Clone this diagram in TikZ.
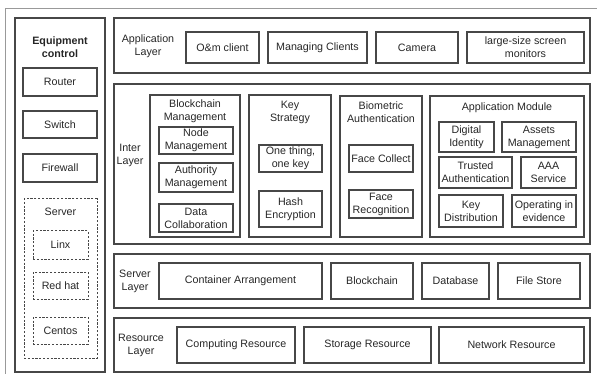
\documentclass[tikz,border=0pt]{standalone}
\usepackage{fontspec}
\setmainfont{Liberation Sans}

\begin{document}
\begin{tikzpicture}[x=1pt, y=-1pt,
	every node/.style={font=\fontsize{10.7}{13}\selectfont, align=center, inner sep=1pt, text=black!85},
	frame/.style={draw=black!72, line width=1.1pt, rectangle},
	box/.style={draw=black!72, line width=1.1pt, rectangle},
	dbox/.style={draw=black!72, line width=1pt, rectangle, dash pattern=on 2.2pt off 1.6pt},
	outer/.style={draw=black!40, line width=1pt}]
				\useasboundingbox (0,0) rectangle (597,374);
				\clip (0,0) rectangle (597,374);
				\draw[outer] (5,390) -- (5,9) -- (610,9);
				\node[frame, minimum width=90, minimum height=354] (EQ)at(60, 195) {};
				\node[font=\fontsize{10.7}{13}\selectfont\bfseries] (EQT)at(60, 47) {Equipment\\control};
				\node[box, minimum width=74, minimum height=28] (RT)at(60, 82) {Router};
				\node[box, minimum width=74, minimum height=27] (SW)at(60, 124.5) {Switch};
				\node[box, minimum width=74, minimum height=28] (FW)at(60, 168) {Firewall};
				\node[dbox, minimum width=73, minimum height=159] (SV)at(60.5, 278.5) {};
				\node (SVT)at(60.5, 212) {Server};
				\node[dbox, minimum width=55, minimum height=28] (LX)at(60.5, 245) {Linx};
				\node[dbox, minimum width=55, minimum height=27] (RH)at(60.5, 285.5) {Red hat};
				\node[dbox, minimum width=55, minimum height=27] (CO)at(60.5, 330.5) {Centos};

				\node[frame, minimum width=476, minimum height=55] (AL)at(352, 45.5) {};
				\node (ALT)at(148, 46) {Application\\Layer};
				\node[box, minimum width=73, minimum height=31] (OM)at(222.5, 47.5) {O\&m client};
				\node[box, minimum width=99, minimum height=31] (MC)at(317.5, 47.5) {Managing Clients};
				\node[box, minimum width=82, minimum height=31] (CA)at(417, 47.5) {Camera};
				\node[box, minimum width=117, minimum height=31] (LS)at(525.5, 47.5) {large-size screen\\monitors};

				\node[frame, minimum width=476, minimum height=160] (IL)at(352, 164) {};
				\node (ILT)at(130, 155) {Inter\\Layer};
				\node[box, minimum width=90, minimum height=142] (BM)at(195, 166) {};
				\node (BMT)at(195, 111) {Blockchain\\Management};
				\node[box, minimum width=74, minimum height=27] (NM)at(196, 140.5) {Node\\Management};
				\node[box, minimum width=74, minimum height=29] (AM)at(196, 177.5) {Authority\\Management};
				\node[box, minimum width=74, minimum height=28] (DC)at(196, 218) {Data\\Collaboration};
				\node[box, minimum width=82, minimum height=142] (KS)at(290, 166) {};
				\node (KST)at(290, 112) {Key\\Strategy};
				\node[box, minimum width=63, minimum height=27] (OT)at(290.5, 158.5) {One thing,\\one key};
				\node[box, minimum width=63, minimum height=36] (HE)at(290.5, 209) {Hash\\Encryption};
				\node[box, minimum width=82, minimum height=141] (BA)at(381, 166.5) {};
				\node (BAT)at(381, 112) {Biometric\\Authentication};
				\node[box, minimum width=64, minimum height=27] (FC)at(381, 158.5) {Face Collect};
				\node[box, minimum width=64, minimum height=28] (FR)at(381, 204) {Face\\Recognition};
				\node[box, minimum width=154, minimum height=141] (APM)at(507, 166.5) {};
				\node (APMT)at(507, 108) {Application Module};
				\node[box, minimum width=55, minimum height=30] (DI)at(466.5, 137) {Digital\\Identity};
				\node[box, minimum width=74, minimum height=30] (ASM)at(539, 137) {Assets\\Management};
				\node[box, minimum width=73, minimum height=31] (TA)at(475.5, 172.5) {Trusted\\Authentication};
				\node[box, minimum width=55, minimum height=31] (AAA)at(548.5, 172.5) {AAA\\Service};
				\node[box, minimum width=64, minimum height=32] (KD)at(471, 211) {Key\\Distribution};
				\node[box, minimum width=64, minimum height=32] (OE)at(544, 211) {Operating in\\evidence};

				\node[frame, minimum width=476, minimum height=54] (SL)at(352, 281) {};
				\node (SLT)at(135, 281) {Server\\Layer};
				\node[box, minimum width=163, minimum height=36] (CAR)at(240.5, 281) {Container Arrangement};
				\node[box, minimum width=82, minimum height=36] (BC)at(372, 281) {Blockchain};
				\node[box, minimum width=67, minimum height=36] (DB)at(455.5, 281) {Database};
				\node[box, minimum width=82, minimum height=36] (FS)at(539, 281) {File Store};

				\node[frame, minimum width=476, minimum height=54] (RL)at(352, 345) {};
				\node (RLT)at(141, 345) {Resource\\Layer};
				\node[box, minimum width=118, minimum height=36] (CR)at(236, 345) {Computing Resource};
				\node[box, minimum width=127, minimum height=36] (SR)at(367.5, 345) {Storage Resource};
				\node[box, minimum width=145, minimum height=36] (NR)at(511.5, 345) {Network Resource};
			\end{tikzpicture}
\end{document}
